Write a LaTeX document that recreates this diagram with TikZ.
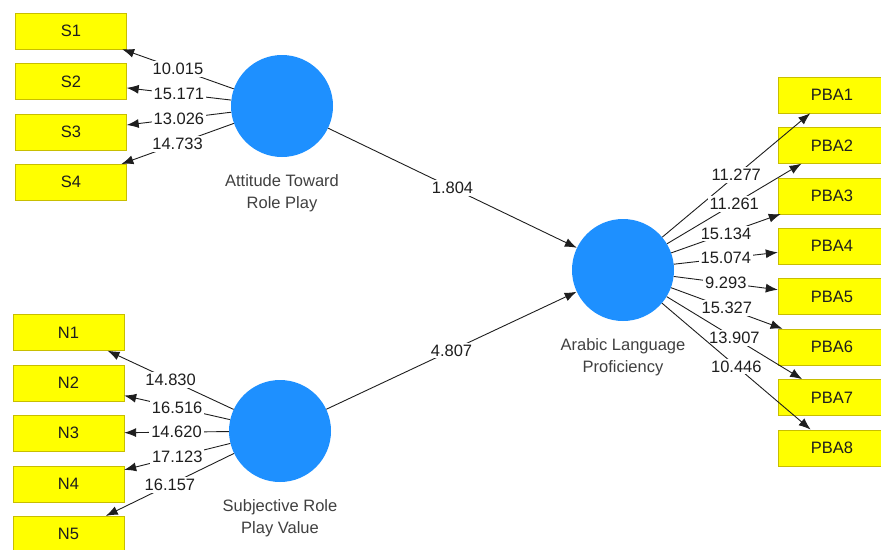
\documentclass[tikz,border=0pt]{standalone}
\usepackage{fontspec}
\setmainfont{Liberation Sans}
\usepackage{xcolor}
\definecolor{plsyellow}{RGB}{255, 255, 0}
\definecolor{plsborder}{RGB}{200, 190, 0}
\definecolor{plsblue}{RGB}{30, 144, 255}
\definecolor{plsdark}{RGB}{30, 30, 30}
\usepackage{tikz}
\usetikzlibrary{arrows.meta, positioning}

\begin{document}
\begin{tikzpicture}[
        x=1pt, y=-1pt,
        node distance=14pt,
        font=\fontsize{16.5}{22}\selectfont,
        indicator/.style={
            rectangle,
            draw=plsborder,
            fill=plsyellow,
            minimum width=111pt,
            minimum height=36pt,
            inner sep=0pt,
            text=plsdark
        },
        latent/.style={
            circle,
            fill=plsblue,
            minimum size=102pt,
            inner sep=0pt
        },
        caption/.style={align=center, inner sep=0pt, text=plsdark!85},
        value/.style={fill=white, inner sep=2pt, text=plsdark},
        arrow/.style={-{Latex[length=12pt, width=9pt]}, line width=0.9pt, color=plsdark}
    ]
        \useasboundingbox (0,0) rectangle (881,549);

        % latent variables
        \node[latent] (att) at (282,106) {};
        \node[latent] (subj) at (280,431) {};
        \node[latent] (arab) at (623,270) {};
        \node[caption, below=17pt of att] (attcap) {Attitude Toward\\Role Play};
        \node[caption, below=17pt of subj] (subjcap) {Subjective Role\\Play Value};
        \node[caption, below=17pt of arab] (arabcap) {Arabic Language\\Proficiency};

        % indicators
        \node[indicator] (s1) at (71,31) {S1};
        \node[indicator, below=of s1] (s2) {S2};
        \node[indicator, below=of s2] (s3) {S3};
        \node[indicator, below=of s3] (s4) {S4};

        \node[indicator] (n1) at (68.5,332.5) {N1};
        \node[indicator, below=of n1] (n2) {N2};
        \node[indicator, below=of n2] (n3) {N3};
        \node[indicator, below=of n3] (n4) {N4};
        \node[indicator, below=of n4] (n5) {N5};

        \node[indicator, minimum width=108pt] (pba1) at (832,95) {PBA1};
        \node[indicator, minimum width=108pt, below=of pba1] (pba2) {PBA2};
        \node[indicator, minimum width=108pt, below=of pba2] (pba3) {PBA3};
        \node[indicator, minimum width=108pt, below=of pba3] (pba4) {PBA4};
        \node[indicator, minimum width=108pt, below=of pba4] (pba5) {PBA5};
        \node[indicator, minimum width=108pt, below=of pba5] (pba6) {PBA6};
        \node[indicator, minimum width=108pt, below=of pba6] (pba7) {PBA7};
        \node[indicator, minimum width=108pt, below=of pba7] (pba8) {PBA8};

        % outer loadings
        \draw[arrow] (att) -- node[value] {10.015} (s1);
        \draw[arrow] (att) -- node[value] {15.171} (s2);
        \draw[arrow] (att) -- node[value] {13.026} (s3);
        \draw[arrow] (att) -- node[value] {14.733} (s4);

        \draw[arrow] (subj) -- node[value] {14.830} (n1);
        \draw[arrow] (subj) -- node[value] {16.516} (n2);
        \draw[arrow] (subj) -- node[value] {14.620} (n3);
        \draw[arrow] (subj) -- node[value] {17.123} (n4);
        \draw[arrow] (subj) -- node[value] {16.157} (n5);

        \draw[arrow] (arab) -- node[value] {11.277} (pba1);
        \draw[arrow] (arab) -- node[value] {11.261} (pba2);
        \draw[arrow] (arab) -- node[value] {15.134} (pba3);
        \draw[arrow] (arab) -- node[value] {15.074} (pba4);
        \draw[arrow] (arab) -- node[value] {9.293} (pba5);
        \draw[arrow] (arab) -- node[value] {15.327} (pba6);
        \draw[arrow] (arab) -- node[value] {13.907} (pba7);
        \draw[arrow] (arab) -- node[value] {10.446} (pba8);

        % path coefficients
        \draw[arrow] (att) -- node[value] {1.804} (arab);
        \draw[arrow] (subj) -- node[value] {4.807} (arab);

    \end{tikzpicture}
\end{document}
